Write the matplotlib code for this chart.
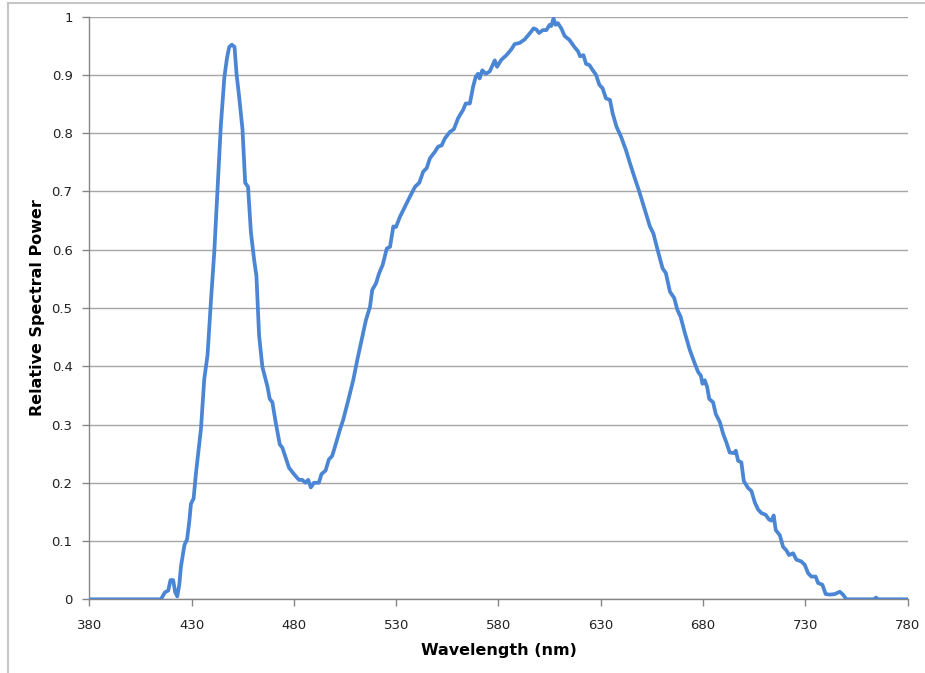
import matplotlib.pyplot as plt
from matplotlib.lines import Line2D
from matplotlib.ticker import FuncFormatter

# spectral power distribution
wavelength = [
    380, 415, 417, 418.6, 419.7, 421, 422, 423, 424, 424.8, 426.5, 427.8,
    428.9, 429.7, 431, 432.1, 433.4, 434.6, 436.2, 437.8, 439.5, 441.1,
    442.7, 444.3, 446, 447.3, 448.4, 449.7, 451, 452, 453.3, 454.9, 456.2,
    457.6, 459, 460.6, 461.7, 463, 464.6, 467.1, 468.2, 469.5, 471.1, 473.1,
    474.4, 476, 477.6, 480, 482.5, 484.1, 485.7, 487, 488.3, 489.8, 492.2,
    493.5, 495.5, 497.1, 498.7, 500.1, 502.5, 504.1, 506.6, 509, 511, 513.1,
    515.2, 517.2, 518.3, 520.1, 521.7, 523.4, 525.4, 527, 528.6, 529.9,
    531.9, 534.3, 536.7, 539.2, 541.3, 543.2, 544.9, 546.5, 548.9, 550.5,
    552.2, 553.8, 556.2, 558.2, 560.3, 562.7, 564, 566, 567.6, 568.9, 570,
    570.8, 572.1, 573.8, 575.7, 578.2, 579.3, 581.4, 583.9, 586.3, 587.9,
    590.4, 592.8, 595.2, 597.2, 598.5, 599.8, 601.7, 603.4, 605, 605.8,
    606.9, 607.9, 609, 610.7, 612.3, 614.7, 617.1, 618.8, 619.9, 621.5,
    622.8, 624.4, 626.1, 627.7, 629.3, 630.9, 632.5, 634.5, 635.8, 637.7,
    639.9, 642.3, 644.3, 646.4, 648.8, 651.3, 654, 655.7, 657.6, 660.2,
    661.8, 663.8, 665.9, 667.4, 669, 671.1, 673.5, 675.9, 677.6, 678.9,
    679.7, 680.8, 682, 683, 684.9, 686.2, 688.2, 689.8, 691.4, 693, 695,
    696, 697.1, 698.7, 699.9, 702, 703.6, 705.3, 706.9, 708.5, 710.6, 712.2,
    713.4, 714.5, 715.5, 717.5, 719.1, 720.7, 722, 724, 725.6, 728, 729.7,
    731.3, 732.9, 735, 736.2, 738.3, 739.9, 741.9, 744.4, 746.8, 748.4, 750,
    763.5, 764.5, 765.5, 780,
]
power = [
    0, 0, 0.012, 0.015, 0.033, 0.033, 0.012, 0.005, 0.025, 0.056, 0.093,
    0.103, 0.134, 0.164, 0.173, 0.215, 0.256, 0.293, 0.378, 0.419, 0.514,
    0.596, 0.704, 0.813, 0.895, 0.929, 0.948, 0.952, 0.948, 0.901, 0.861,
    0.806, 0.715, 0.708, 0.630, 0.582, 0.555, 0.453, 0.399, 0.365, 0.344,
    0.338, 0.304, 0.266, 0.260, 0.243, 0.226, 0.215, 0.205, 0.205, 0.200,
    0.205, 0.192, 0.200, 0.200, 0.215, 0.221, 0.240, 0.246, 0.262, 0.291,
    0.308, 0.342, 0.376, 0.411, 0.445, 0.479, 0.502, 0.531, 0.542, 0.560,
    0.574, 0.602, 0.605, 0.640, 0.639, 0.657, 0.674, 0.691, 0.708, 0.715,
    0.734, 0.740, 0.757, 0.768, 0.777, 0.779, 0.791, 0.802, 0.807, 0.826,
    0.840, 0.851, 0.851, 0.880, 0.897, 0.902, 0.894, 0.908, 0.902, 0.906,
    0.925, 0.914, 0.926, 0.934, 0.944, 0.953, 0.955, 0.961, 0.971, 0.980,
    0.978, 0.972, 0.977, 0.977, 0.986, 0.984, 0.997, 0.986, 0.989, 0.980,
    0.967, 0.960, 0.948, 0.941, 0.932, 0.934, 0.919, 0.917, 0.908, 0.900,
    0.883, 0.877, 0.860, 0.857, 0.834, 0.811, 0.794, 0.771, 0.748, 0.725,
    0.700, 0.671, 0.640, 0.628, 0.602, 0.568, 0.560, 0.528, 0.517, 0.497,
    0.485, 0.457, 0.428, 0.405, 0.390, 0.384, 0.370, 0.376, 0.364, 0.344,
    0.338, 0.318, 0.304, 0.284, 0.269, 0.252, 0.251, 0.255, 0.238, 0.235,
    0.203, 0.191, 0.186, 0.166, 0.154, 0.148, 0.145, 0.137, 0.135, 0.144,
    0.119, 0.110, 0.090, 0.084, 0.076, 0.079, 0.068, 0.065, 0.059, 0.045,
    0.039, 0.039, 0.028, 0.025, 0.009, 0.008, 0.009, 0.013, 0.008, 0,
    0, 0.003, 0, 0,
]

x_ticks = [380, 430, 480, 530, 580, 630, 680, 730, 780]
y_ticks = [0, 0.1, 0.2, 0.3, 0.4, 0.5, 0.6, 0.7, 0.8, 0.9, 1.0]

axis_gray = "#868686"

fig = plt.figure(figsize=(9.25, 6.73), dpi=100)
ax = fig.add_axes([0.0965, 0.1095, 0.8848, 0.8657])

ax.plot(wavelength, power, color="#4a86d4", linewidth=2.7,
        solid_joinstyle="round", solid_capstyle="round", zorder=3)

ax.set_xlim(380, 780)
ax.set_ylim(0, 1)
ax.set_xticks(x_ticks)
ax.set_yticks(y_ticks)
ax.yaxis.set_major_formatter(FuncFormatter(lambda v, _: f"{v:g}"))

ax.grid(True, axis="y", color="#a6a6a6", linewidth=1.0)
ax.set_axisbelow(True)
for side in ("top", "right"):
    ax.spines[side].set_visible(False)
for side in ("left", "bottom"):
    ax.spines[side].set_color(axis_gray)
    ax.spines[side].set_linewidth(1.0)
ax.tick_params(axis="both", colors=axis_gray, length=5, width=1.0,
               labelcolor="#222222", labelsize=9.5)
ax.tick_params(axis="y", pad=7)
ax.tick_params(axis="x", pad=9)

ax.set_xlabel("Wavelength (nm)", fontsize=11.5, fontweight="bold", labelpad=8)
ax.set_ylabel("Relative Spectral Power", fontsize=11.5, fontweight="bold", labelpad=5)

# light chart-area border (left and top edges visible in the crop)
fig.add_artist(Line2D([7.5 / 925, 7.5 / 925], [0, 1 - 3 / 673],
                      transform=fig.transFigure, color="#c6c6c6", linewidth=1.5))
fig.add_artist(Line2D([7.5 / 925, 1], [1 - 3 / 673, 1 - 3 / 673],
                      transform=fig.transFigure, color="#c6c6c6", linewidth=1.5))

fig.savefig("out.png", dpi=100)
